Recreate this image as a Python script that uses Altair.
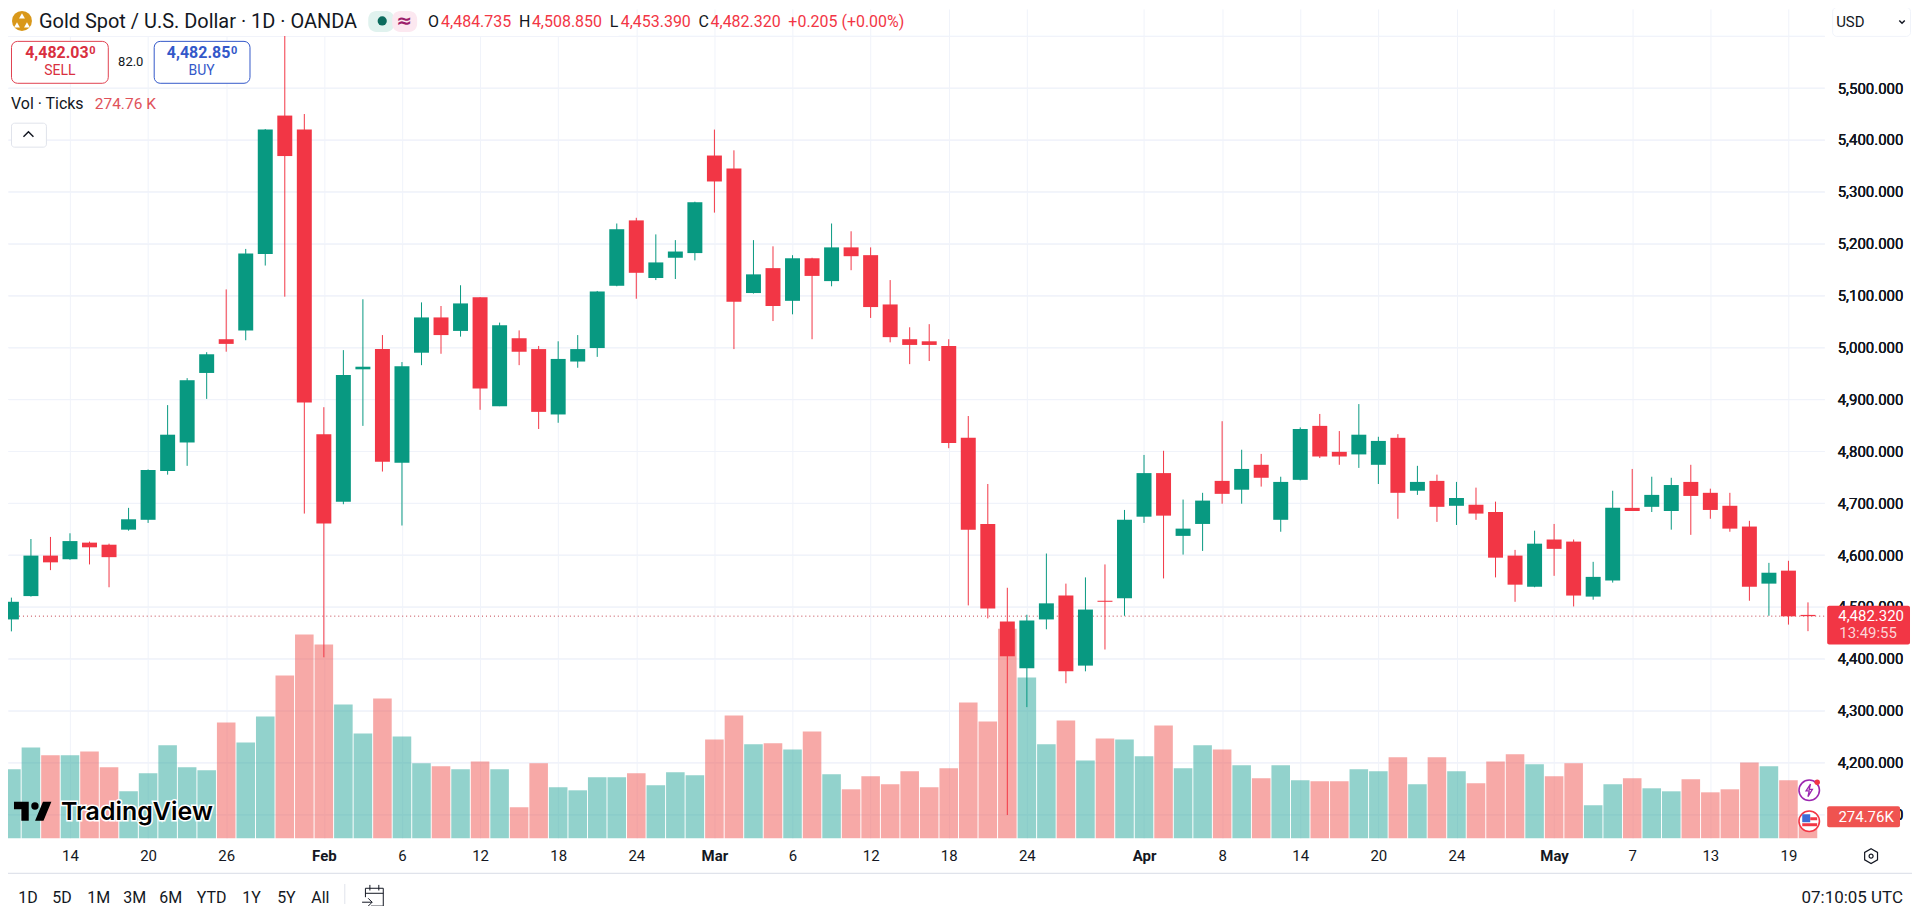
import altair as alt
import pandas as pd

opens = [4476,4521,4599,4592,4624,4620,4649,4668,4762,4817,
4951,5016,5033,5180,5447,5420,4833,4703,4958,4997,
4778,4990,5058,5032,5097,4887,5018,4997,4871,4973,
4999,5119,5245,5134,5173,5182,5370,5345,5105,5153,
5090,5172,5128,5193,5178,5083,5016,5012,5003,4826,
4660,4472,4382,4476,4522,4387,4512,4517,4674,4758,
4637,4660,4743,4726,4774,4668,4745,4849,4799,4794,
4774,4826,4724,4743,4695,4697,4683,4599,4539,4630,
4626,4520,4551,4691,4693,4685,4741,4720,4695,4655,
4545,4570,4484.735]
closes = [4510,4599,4586,4627,4615,4596,4669,4764,4832,4937,
4987,5007,5181,5420,5369,4894,4661,4947,4963,4780,
4964,5058,5024,5085,4921,5043,4992,4876,4978,4997,
5108,5228,5144,5164,5185,5280,5320,5088,5141,5080,
5172,5138,5193,5176,5078,5020,5005,5005,4816,4649,
4497,4405,4474,4507,4376,4495,4510,4668,4758,4676,
4651,4705,4718,4766,4749,4741,4843,4790,4790,4832,
4820,4720,4741,4693,4710,4680,4595,4543,4622,4612,
4522,4558,4691,4685,4716,4735,4714,4687,4651,4539,
4566,4482,4482.32]
highs = [4518,4631,4635,4642,4626,4622,4691,4765,4889,4941,
4991,5112,5190,5421,5601,5450,4885,4995,5093,5024,
4972,5087,5080,5120,5097,5048,5033,5003,5012,5024,
5109,5239,5250,5218,5207,5281,5420,5380,5207,5195,
5178,5173,5239,5224,5193,5130,5039,5045,5016,4868,
4737,4537,4485,4603,4545,4557,4582,4687,4793,4801,
4707,4720,4858,4803,4795,4751,4846,4872,4839,4891,
4828,4833,4772,4755,4741,4730,4703,4610,4647,4660,
4630,4587,4724,4766,4751,4749,4774,4728,4720,4666,
4585,4589,4508.85]
lows = [4453,4520,4571,4591,4582,4538,4647,4662,4755,4772,
4901,4992,5014,5158,5098,4680,4403,4698,4849,4761,
4657,4966,4988,5021,4880,4887,4966,4843,4855,4961,
4982,5118,5094,5130,5132,5168,5260,4997,5104,5051,
5064,5016,5118,5149,5057,5010,4968,4974,4806,4503,
4478,4099,4307,4457,4353,4376,4418,4483,4662,4555,
4601,4608,4699,4699,4732,4645,4744,4787,4774,4768,
4737,4670,4716,4664,4658,4668,4557,4510,4538,4560,
4501,4514,4547,4685,4683,4649,4639,4670,4645,4512,
4483,4466,4453.39]
volumes = [890,1174,1071,1071,1122,916,606,839,1200,916,
877,1496,1238,1574,2103,2632,2503,1729,1355,1806,
1316,968,929,890,993,890,400,968,658,619,
787,787,839,684,851,813,1277,1587,1213,1226,
1148,1380,826,632,800,697,864,658,903,1754,
1509,2709,2077,1213,1522,1006,1290,1277,1058,1458,
903,1200,1148,942,774,942,748,735,735,890,
864,1045,697,1045,864,710,993,1084,955,800,
968,426,697,774,645,606,761,593,632,980,
929,748,274.76]
tick_index = [3,7,11,16,20,24,28,32,36,40,44,48,52,58,62,66,70,74,79,83,87,91]
tick_labels = ["14","20","26","Feb","6","12","18","24","Mar","6","12","18","24","Apr","8","14","20","24","May","7","13","19"]
month_ticks = [16,36,58,79]
price_ticks = [4100,4200,4300,4400,4500,4600,4700,4800,4900,5000,5100,5200,5300,5400,5500,5600]
last_close = 4482.32

UP, DOWN = "#089981", "#F23645"
VUP, VDOWN = "#26A69A", "#EF5350"
GRID = "#F0F3FA"
INK = "#131722"
FONT = "Roboto"

df = pd.DataFrame({"i": range(len(opens)), "open": opens, "high": highs, "low": lows,
                   "close": closes, "vol": volumes})

xs = alt.Scale(domain=[-0.174, 92.83], nice=False, zero=False, padding=0)
ys = alt.Scale(domain=[4054.4, 5652.5], nice=False, zero=False)
vs = alt.Scale(domain=[0, 10720], nice=False, zero=False)
is_up = "datum.close >= datum.open"

labels_js = "[" + ",".join(f"'{t}'" for t in tick_labels) + "]"
idx_js = "[" + ",".join(str(t) for t in tick_index) + "]"
months_js = "[" + ",".join(str(t) for t in month_ticks) + "]"

x_axis = alt.Axis(values=tick_index, labelExpr=f"{labels_js}[indexof({idx_js},datum.value)]",
                  labelFontWeight=alt.expr(f"indexof({months_js},datum.value)>=0?'bold':'normal'"),
                  grid=True, gridColor=GRID, gridWidth=1, domain=False, ticks=False, title=None,
                  labelFont=FONT, labelFontSize=15, labelColor=INK, labelPadding=10, labelAngle=0,
                  labelOverlap=False, labelFlush=False)
y_axis = alt.Axis(values=price_ticks, labelExpr="datum.value>=5600?'':format(datum.value,',.3f')",
                  orient="right", grid=True, gridColor=GRID, gridWidth=1, domain=False, ticks=False,
                  title=None, labelFont=FONT, labelFontSize=15, labelColor=INK, labelPadding=13,
                  labelOverlap=False, labelFlush=False)

base = alt.Chart(df)
volume = base.mark_bar(size=18.6, orient="vertical", opacity=0.5).encode(
    x=alt.X("i:Q", scale=xs, axis=x_axis),
    y=alt.Y("vol:Q", scale=vs, axis=None),
    color=alt.condition(is_up, alt.value(VUP), alt.value(VDOWN)),
)
last_line = alt.Chart(alt.InlineData(values=[{"p": last_close}])).mark_rule(
    color="#C2404C", strokeDash=[1, 3], strokeWidth=1).encode(y=alt.Y("p:Q", scale=ys, axis=y_axis))
wicks = base.mark_rule(strokeWidth=1).encode(
    x=alt.X("i:Q", scale=xs, axis=x_axis),
    y=alt.Y("low:Q", scale=ys, axis=y_axis),
    y2="high:Q",
    color=alt.condition(is_up, alt.value(UP), alt.value(DOWN)),
)
bodies = base.mark_bar(size=15, orient="vertical").encode(
    x=alt.X("i:Q", scale=xs, axis=x_axis),
    y=alt.Y("open:Q", scale=ys, axis=y_axis),
    y2="close:Q",
    color=alt.condition(is_up, alt.value(UP), alt.value(DOWN)),
)

one = alt.InlineData(values=[{"a": 1}])

def text(t, x, y, color=INK, size=16, weight="normal", align="left", font=FONT, **kw):
    return alt.Chart(one).mark_text(text=t, x=x - 8, y=y - 8, color=color, fontSize=size,
                                    fontWeight=weight, align=align, baseline="middle", font=font, **kw)

def box(x0, y0, x1, y1, fill="white", stroke=None, r=0, sw=1):
    props = dict(fill=fill, cornerRadius=r, opacity=1)
    if stroke:
        props.update(stroke=stroke, strokeWidth=sw)
    return alt.Chart(one).mark_rect(**props).encode(
        x=alt.value(x0 - 8), x2=alt.value(x1 - 8), y=alt.value(y0 - 8), y2=alt.value(y1 - 8))

def symbol(shape, x, y, size, fill=None, stroke=None, sw=1):
    props = dict(shape=shape, size=size, x=x - 8, y=y - 8, opacity=1)
    if fill:
        props.update(fill=fill, filled=True)
    else:
        props.update(filled=False, fill="transparent")
    if stroke:
        props.update(stroke=stroke, strokeWidth=sw)
    else:
        props.update(strokeWidth=0)
    return alt.Chart(one).mark_point(**props)

TV_PATH = "M-0.222,0.5L-0.611,0.5L-0.611,-0.111L-1,-0.111L-1,-0.5L-0.222,-0.5ZM0.556,0.5L0.111,0.5L0.528,-0.5L0.972,-0.5Z"
CHEV_UP = "M-1,0.5L0,-0.5L1,0.5"
CHEV_DOWN = "M-1,-0.5L0,0.5L1,-0.5"
HEX = "M0,-1L0.87,-0.5L0.87,0.5L0,1L-0.87,0.5L-0.87,-0.5Z"
CAL = "M-0.7,0.1L-0.7,-0.7L0.9,-0.7L0.9,0.9L-0.2,0.9M-0.7,-0.25L0.9,-0.25M-0.3,-1L-0.3,-0.5M0.5,-1L0.5,-0.5M-1,0.55L-0.1,0.55M-0.45,0.2L-0.1,0.55L-0.45,0.9"
BOLT = "M0.2,-1L-0.5,0.1L0,0.1L-0.2,1L0.5,-0.15L0,-0.15Z"

overlay = [
    box(8, 8, 620, 35),
    symbol("circle", 22, 20, 400, fill="#D9981A"),
    symbol("triangle-up", 22, 15, 35, fill="white"),
    symbol("triangle-up", 17, 24, 35, fill="white"),
    symbol("triangle-up", 27, 24, 35, fill="white"),
    text("Gold Spot / U.S. Dollar · 1D · OANDA", 39, 21, size=20),
    box(369, 10, 395, 31, fill="#E0F2EE", r=8),
    box(393, 10, 418, 31, fill="#FCE8F0", r=8),
    symbol("circle", 383, 20, 85, fill="#0B6B5D"),
    text("≈", 405, 20, color="#9C1E6B", size=19, weight="bold", align="center", font="DejaVu Sans"),
    text("O", 429, 21), text("4,484.735", 442, 21, color=DOWN),
    text("H", 520, 21), text("4,508.850", 533, 21, color=DOWN),
    text("L", 611, 21), text("4,453.390", 622, 21, color=DOWN),
    text("C", 700, 21), text("4,482.320", 712, 21, color=DOWN),
    text("+0.205 (+0.00%)", 790, 21, color=DOWN),
    box(11.5, 40.5, 108.5, 82.5, fill="white", stroke="#E0404F", r=6),
    text("4,482.03", 57, 52, color="#D9303F", size=16, weight="bold", align="center"),
    text("0", 92.6, 50, color="#D9303F", size=11, weight="bold", align="center"),
    text("SELL", 60, 70, color="#D9303F", size=14, align="center"),
    text("82.0", 131, 61, size=13, align="center"),
    box(154.5, 40.5, 250.5, 82.5, fill="white", stroke="#3358C9", r=6),
    text("4,482.85", 199, 52, color="#3358C9", size=16, weight="bold", align="center"),
    text("0", 234.7, 50, color="#3358C9", size=11, weight="bold", align="center"),
    text("BUY", 202, 70, color="#3358C9", size=14, align="center"),
    text("Vol · Ticks", 11, 103),
    text("274.76 K", 95, 103, color="#E0525A", size=15.5),
    box(11.5, 122.5, 46.5, 146.5, fill="white", stroke="#E0E3EB", r=3),
    symbol(CHEV_UP, 28.5, 133.5, 100, stroke=INK, sw=1.5),
    box(1836.5, 6.5, 1914.5, 35.5, fill="white", stroke="#F0F3FA", r=4),
    text("USD", 1840, 21, size=15),
    symbol(CHEV_DOWN, 1906, 21, 30, stroke=INK, sw=1.5),
    text("TradingView", 61, 813, color="white", size=25, weight=600, font="Inter",
         stroke="white", strokeWidth=3),
    text("TradingView", 61, 813, color="#000000", size=25, weight=600, font="Inter"),
    symbol(TV_PATH, 33, 812, 1444, fill="#000000"),
    symbol("circle", 35, 806.7, 55, fill="#000000"),
    symbol("circle", 1813, 791, 420, fill="white", stroke="#9C27B0", sw=1.6),
    symbol(BOLT, 1813, 791, 160, fill="white", stroke="#9C27B0", sw=1.3),
    symbol("circle", 1821, 783, 30, fill="#F23645"),
    symbol("circle", 1813, 822, 420, fill="white", stroke="#F23645", sw=1.6),
    box(1806, 815, 1814, 823, fill="#3D6BD6"),
    box(1806, 824, 1821, 827, fill="#F23645"),
    box(1814, 818, 1821, 821, fill="#F23645"),
    box(1831, 606, 1914, 645, fill=DOWN, r=2),
    text("4,482.320", 1875, 616, color="white", size=15, align="center"),
    text("13:49:55", 1872, 633, color="#FBD5D8", size=15, align="center"),
    box(1831, 807, 1904, 828, fill=VDOWN, r=2),
    text("274.76K", 1870, 818, color="white", size=15, align="center"),
    box(8, 873.5, 1916, 875, fill="#E0E3EB"),
    text("1D", 28, 899, align="center"), text("5D", 62, 899, align="center"),
    text("1M", 99, 899, align="center"), text("3M", 135, 899, align="center"),
    text("6M", 171, 899, align="center"), text("YTD", 212, 899, align="center"),
    text("1Y", 252, 899, align="center"), text("5Y", 287, 899, align="center"),
    text("All", 321, 899, align="center"),
    box(345, 885, 346, 905, fill="#E0E3EB"),
    symbol(CAL, 374, 897, 500, stroke=INK, sw=1),
    text("07:10:05 UTC", 1907, 899, size=17, align="right"),
    symbol(HEX, 1875, 857, 220, stroke=INK, sw=1.2),
    symbol("circle", 1875, 857, 16, stroke=INK, sw=1.2),
]

chart = alt.layer(volume, last_line, wicks, bodies, *overlay).resolve_scale(y="independent").properties(
    width=1820, height=831,
    padding={"left": 0, "top": 0, "right": 88, "bottom": 67},
    autosize=alt.AutoSizeParams(type="none"),
    background="white",
).configure_view(stroke=None)

chart.save("out.html", embed_options={"renderer": "svg", "actions": False})
